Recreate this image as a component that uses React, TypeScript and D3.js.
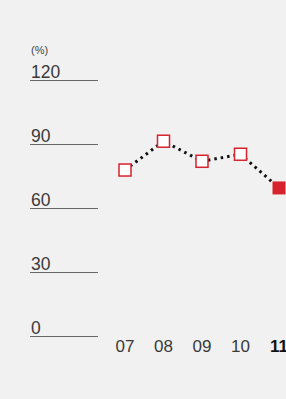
import { useEffect, useRef } from "react";
import * as d3 from "d3";

const years = ["07", "08", "09", "10", "11"];
const values = [77.8, 91.3, 81.9, 85.2, 69.4];
const yTicks = [0, 30, 60, 90, 120];

export default function App() {
  const ref = useRef<SVGSVGElement>(null);

  useEffect(() => {
    const svg = d3.select(ref.current);
    svg.selectAll("*").remove();

    const width = 286;
    const height = 399;
    const red = "#d7232d";
    const font = "'Liberation Sans', Arial, sans-serif";

    svg.attr("width", width).attr("height", height);
    svg.append("rect").attr("width", width).attr("height", height).attr("fill", "#f1f1f1");

    const y = d3.scaleLinear().domain([0, 120]).range([336, 80]);
    const x = d3.scalePoint().domain(years).range([125, 279]);

    // y axis: label above a short rule
    const ticks = svg.append("g");
    yTicks.forEach(t => {
      ticks.append("line")
        .attr("x1", 30).attr("x2", 98)
        .attr("y1", y(t) + 0.5).attr("y2", y(t) + 0.5)
        .attr("stroke", "#666").attr("stroke-width", 1);
      ticks.append("text")
        .attr("x", 31).attr("y", y(t) - 2.5)
        .attr("font-family", font).attr("font-size", 17.5)
        .attr("fill", "#3a3a3a")
        .text(t);
    });
    svg.append("text")
      .attr("x", 31).attr("y", 54)
      .attr("font-family", font).attr("font-size", 11)
      .attr("fill", "#444")
      .text("(%)");

    // x labels
    years.forEach((yr, i) => {
      svg.append("text")
        .attr("x", x(yr)!).attr("y", 352)
        .attr("text-anchor", "middle")
        .attr("font-family", font).attr("font-size", 17)
        .attr("font-weight", i === years.length - 1 ? "bold" : "normal")
        .attr("fill", i === years.length - 1 ? "#111" : "#3a3a3a")
        .text(yr);
    });

    const pts = years.map((yr, i) => ({ yr, v: values[i], last: i === years.length - 1 }));

    svg.append("path")
      .attr("d", d3.line<typeof pts[0]>().x(d => x(d.yr)!).y(d => y(d.v))(pts))
      .attr("fill", "none")
      .attr("stroke", "#111")
      .attr("stroke-width", 3)
      .attr("stroke-dasharray", "2.5 4");

    svg.selectAll("rect.m")
      .data(pts)
      .join("rect")
      .attr("class", "m")
      .attr("x", d => x(d.yr)! - (d.last ? 6.5 : 6))
      .attr("y", d => y(d.v) - (d.last ? 6.5 : 6))
      .attr("width", d => (d.last ? 13 : 12))
      .attr("height", d => (d.last ? 13 : 12))
      .attr("fill", d => (d.last ? red : "#fff"))
      .attr("stroke", red)
      .attr("stroke-width", d => (d.last ? 0 : 1.5));
  }, []);

  return <svg ref={ref} style={{ position: "absolute", left: 0, top: 0 }}></svg>;
}
